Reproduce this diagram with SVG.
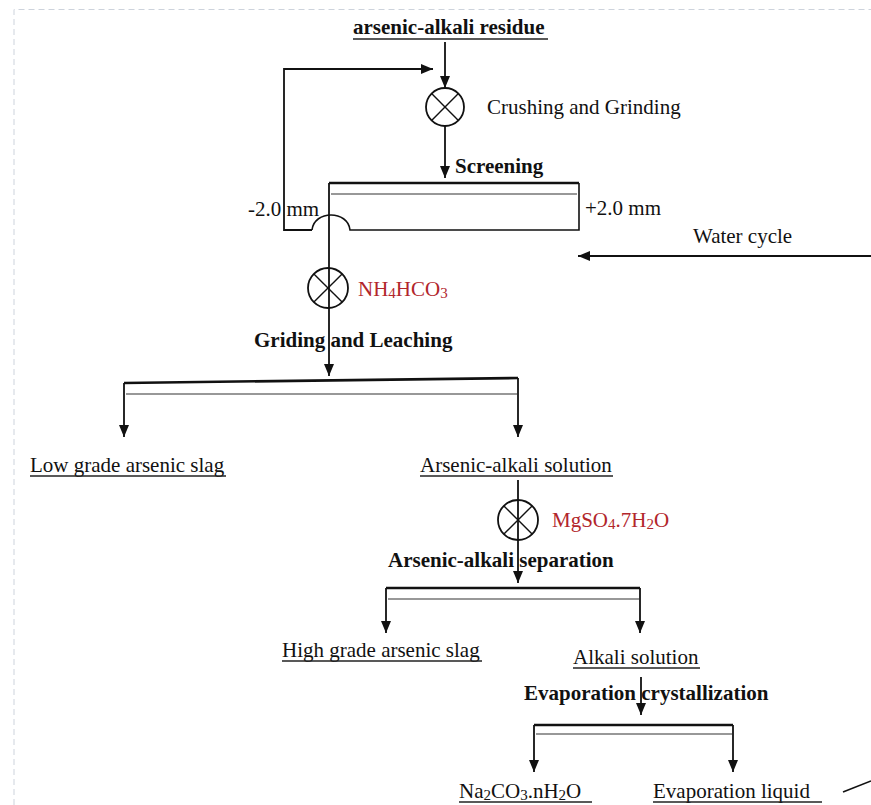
<svg xmlns="http://www.w3.org/2000/svg" width="871" height="805" viewBox="0 0 871 805">
<defs>
<marker id="ah" markerUnits="userSpaceOnUse" markerWidth="12" markerHeight="10" refX="12" refY="5" orient="auto"><path d="M0,0 L12,5 L0,10 z" fill="#111"/></marker>
</defs>
<style>
text{font-family:"Liberation Serif","Times New Roman",serif;font-size:21px;fill:#111}
.b{font-weight:bold}
.red{fill:#b2262b}
.sub{font-size:15px}
.ln{stroke:#111;stroke-width:1.6;fill:none}
.arr{stroke:#111;stroke-width:1.8;fill:none;marker-end:url(#ah)}
.bar{stroke:#111;stroke-width:2.6;fill:none}
.bar2{stroke:#333;stroke-width:1.2;fill:none}
.ul{stroke:#222;stroke-width:1.3}
.mix{fill:none;stroke:#111;stroke-width:1.8}
.x{stroke:#111;stroke-width:1.4}
</style>
<rect width="871" height="805" fill="#fff"/>
<path d="M14,805 L14,9.5 L871,9.5" fill="none" stroke="#cdd3dc" stroke-width="1" stroke-dasharray="6 4"/>

<g id="connectors">
<path class="arr" d="M445,42 L445,88"/>
<path class="arr" d="M312,230 L284,230 L284,69 L433,69"/>
<path class="arr" d="M445,126 L445,178"/>
<path class="arr" d="M329,183 L329,376"/>
<path class="arr" d="M124,383 L124,437"/>
<path class="arr" d="M518,378 L518,437"/>
<path class="arr" d="M518,480 L518,583"/>
<path class="arr" d="M386,588 L386,633"/>
<path class="arr" d="M640,588 L640,633"/>
<path class="arr" d="M641,677 L641,715"/>
<path class="arr" d="M534,725 L534,772"/>
<path class="arr" d="M733,725 L733,772"/>
<path class="arr" d="M871,256 L578,256"/>
<path class="ln" d="M843,792 L871,781"/>
</g>

<g id="residue">
<text class="b" x="353" y="34">arsenic-alkali residue</text>
<line class="ul" x1="353" y1="39" x2="548" y2="39" stroke-width="1.8"/>
</g>

<g id="crushing">
<circle class="mix" cx="445" cy="107" r="19"/>
<line class="x" x1="431.6" y1="93.6" x2="458.4" y2="120.4"/>
<line class="x" x1="458.4" y1="93.6" x2="431.6" y2="120.4"/>
<text x="487" y="114">Crushing and Grinding</text>
</g>

<g id="screening">
<text class="b" x="455" y="173">Screening</text>
<path class="bar" d="M329,183 L579,183"/>
<path class="bar2" d="M331,194 L577,194"/>
<path class="ln" d="M579,183 L579,230 L350,230 C348,210 314,210 312,230"/>
<text x="248" y="216">-2.0 mm</text>
<text x="585" y="215">+2.0 mm</text>
</g>

<g id="water-cycle">
<text x="693" y="243">Water cycle</text>
</g>

<g id="leaching">
<circle class="mix" cx="328" cy="288" r="20"/>
<line class="x" x1="313.9" y1="273.9" x2="342.1" y2="302.1"/>
<line class="x" x1="342.1" y1="273.9" x2="313.9" y2="302.1"/>
<text class="red" x="358" y="296">NH<tspan class="sub" dy="2">4</tspan><tspan dy="-2">HCO</tspan><tspan class="sub" dy="2">3</tspan></text>
<text class="b" x="254" y="347">Griding and Leaching</text>
<path class="bar" d="M124,383 L518,378"/>
<path class="bar2" d="M126,394 L517,394"/>
</g>

<g id="low-grade">
<text x="30" y="472">Low grade arsenic slag</text>
<line class="ul" x1="30" y1="476" x2="226" y2="476"/>
</g>

<g id="solution">
<text x="420" y="472">Arsenic-alkali solution</text>
<line class="ul" x1="420" y1="476" x2="613" y2="476"/>
</g>

<g id="separation">
<circle class="mix" cx="518" cy="520" r="20"/>
<line class="x" x1="503.9" y1="505.9" x2="532.1" y2="534.1"/>
<line class="x" x1="532.1" y1="505.9" x2="503.9" y2="534.1"/>
<text class="red" x="552" y="527">MgSO<tspan class="sub" dy="2">4</tspan><tspan dy="-2">.7H</tspan><tspan class="sub" dy="2">2</tspan><tspan dy="-2">O</tspan></text>
<text class="b" x="388" y="567">Arsenic-alkali separation</text>
<path class="bar" d="M386,588 L640,588"/>
<path class="bar2" d="M388,599 L639,599"/>
</g>

<g id="high-grade">
<text x="282" y="657">High grade arsenic slag</text>
<line class="ul" x1="282" y1="661" x2="482" y2="661"/>
</g>

<g id="alkali">
<text x="573" y="664">Alkali solution</text>
<line class="ul" x1="573" y1="668" x2="700" y2="668"/>
</g>

<g id="evaporation">
<text class="b" x="524" y="700">Evaporation crystallization</text>
<path class="bar" d="M534,725 L733,725"/>
<path class="bar2" d="M536,734 L732,734"/>
</g>

<g id="na2co3">
<text x="459" y="798">Na<tspan class="sub" dy="2">2</tspan><tspan dy="-2">CO</tspan><tspan class="sub" dy="2">3</tspan><tspan dy="-2">.nH</tspan><tspan class="sub" dy="2">2</tspan><tspan dy="-2">O</tspan></text>
<line class="ul" x1="459" y1="802" x2="592" y2="802"/>
</g>

<g id="evap-liquid">
<text x="653" y="798">Evaporation liquid</text>
<line class="ul" x1="653" y1="802" x2="822" y2="802"/>
</g>
</svg>
